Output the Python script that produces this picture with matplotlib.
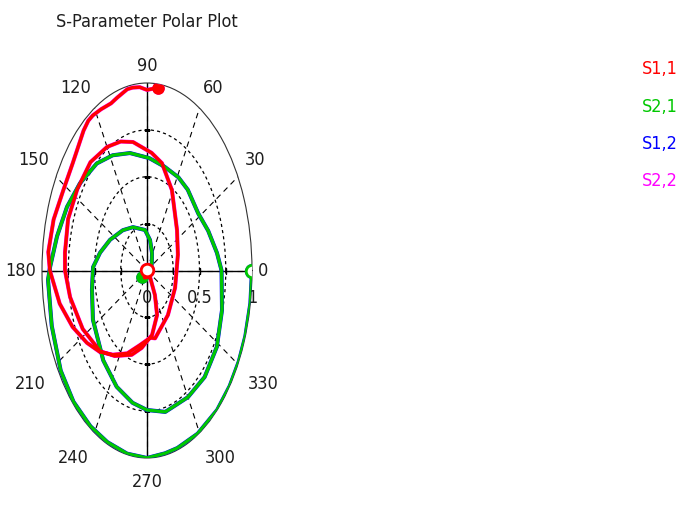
import numpy as np
import matplotlib
matplotlib.use('Agg')
import matplotlib.pyplot as plt
from matplotlib import font_manager

# pick a narrow face if one is installed, the reference text is condensed
narrow = None
for f in font_manager.fontManager.ttflist:
    if 'Narrow' in f.name or f.stretch in ('condensed', 'semi-condensed', 'extra-condensed'):
        narrow = f
        break
if narrow is not None:
    plt.rcParams['font.family'] = [narrow.name, 'DejaVu Sans']
    plt.rcParams['font.stretch'] = narrow.stretch if not isinstance(narrow.stretch, int) else 'condensed'
else:
    plt.rcParams['font.family'] = ['DejaVu Sans']

# S1,1 trace (angle in degrees, magnitude)
s11_ang = [84, 90, 94, 98, 101, 107, 111, 117, 122, 125, 129, 141, 152, 163, 174, 180,
           192, 203, 214, 224, 234, 247, 260, 275, 282, 310, 341, 16, 37, 61, 76, 86,
           101, 110, 120, 133, 147, 160, 173, 180, 191, 207, 224, 236, 252, 263, 278,
           292, 300, 310, 240, 170, 120, 90]
s11_mag = [0.98, 0.963, 0.98, 0.985, 0.985, 0.965, 0.955, 0.965, 0.975, 0.975, 0.96, 0.91,
           0.905, 0.93, 0.945, 0.925, 0.85, 0.77, 0.69, 0.625, 0.555, 0.48, 0.405, 0.36,
           0.37, 0.31, 0.283, 0.306, 0.358, 0.49, 0.59, 0.629, 0.698, 0.732, 0.761, 0.79,
           0.793, 0.8, 0.787, 0.781, 0.746, 0.687, 0.62, 0.55, 0.473, 0.416, 0.347, 0.256,
           0.151, 0.045, 0.045, 0.04, 0.02, 0.005]

# S2,1 trace
s21_ang = [216, 330, 40, 63, 80, 95, 120, 137, 155, 168, 178, 191, 207, 229, 245, 259,
           270, 283, 300, 314, 328.5, 343.5, 0, 8, 20, 32, 48, 59, 73, 88, 104.5, 118,
           130, 144, 156, 168, 179, 183, 198, 213, 225, 237, 247.5, 259, 270, 280, 287,
           299, 312, 322, 331, 339.5, 350, 360]
s21_mag = [0.06, 0.035, 0.06, 0.105, 0.165, 0.217, 0.267, 0.315, 0.388, 0.457, 0.514,
           0.534, 0.578, 0.635, 0.684, 0.719, 0.744, 0.774, 0.78, 0.79, 0.78, 0.745, 0.71,
           0.673, 0.62, 0.575, 0.58, 0.58, 0.578, 0.6, 0.647, 0.696, 0.745, 0.79, 0.834,
           0.876, 0.924, 0.944, 0.954, 0.98, 0.99, 0.99, 0.99, 0.995, 1.0, 0.99, 0.99,
           0.995, 1.0, 1.0, 1.0, 1.0, 1.0, 1.0]

# reverse transmission / output reflection overlap the forward traces
s12_ang, s12_mag = list(s21_ang), list(s21_mag)
s22_ang, s22_mag = list(s11_ang), list(s11_mag)

r_ticks = [0, 0.5, 1]
theta_ticks = list(range(0, 360, 30))
# label distance from centre per angle (the top labels sit a bit closer)
theta_label_r = {0: 1.06, 30: 1.08, 60: 1.07, 90: 1.045, 120: 1.07, 150: 1.08,
                 180: 1.06, 210: 1.11, 240: 1.10, 270: 1.08, 300: 1.10, 330: 1.11}

txt_col = '#1e1e1e'
fs = 13 if narrow is not None else 11

fig = plt.figure(figsize=(6.8, 5.22), dpi=100)
ax = fig.add_axes([42 / 680, 64 / 522, 210 / 680, 375 / 522], projection='polar')
ax.set_aspect('auto')
ax.set_ylim(0, 1)

ax.set_xticks(np.deg2rad(theta_ticks))
ax.set_xticklabels([])
ax.set_yticks([0.25, 0.5, 0.75])
ax.set_yticklabels([])
ax.xaxis.grid(True, color='k', linestyle=(0, (5, 4)), linewidth=0.8)
ax.yaxis.grid(True, color='k', linestyle=(0, (2.5, 2.5)), linewidth=0.9)
ax.tick_params(length=0)
ax.spines['polar'].set_linewidth(0.8)
ax.spines['polar'].set_color('#333333')

# solid main axes
for a in [0, 90]:
    t = np.deg2rad(a)
    ax.plot([t, t + np.pi], [1, 1], color='k', lw=1.0, zorder=2)
ax.plot(np.zeros(3), [0.25, 0.5, 0.75], ls='none', marker='|', ms=5, color='k', mew=1)
ax.plot(np.full(3, np.pi), [0.25, 0.5, 0.75], ls='none', marker='|', ms=5, color='k', mew=1)
ax.plot(np.full(3, np.pi / 2), [0.25, 0.5, 0.75], ls='none', marker='_', ms=5, color='k', mew=1)
ax.plot(np.full(3, 3 * np.pi / 2), [0.25, 0.5, 0.75], ls='none', marker='_', ms=5, color='k', mew=1)


def trace(ang, mag, col, lw, z):
    t = np.unwrap(np.deg2rad(ang))
    ax.plot(t, mag, color=col, lw=lw, zorder=z, solid_capstyle='round', solid_joinstyle='round')
    ax.plot(t[0], mag[0], 'o', color=col, ms=8, zorder=z + 0.5)
    ax.plot(t[-1], mag[-1], 'o', mfc='white', mec=col, mew=2, ms=9, zorder=z + 0.5)


trace(s22_ang, s22_mag, '#ff00ff', 2.9, 3)
trace(s12_ang, s12_mag, '#0000ff', 2.9, 3.2)
trace(s21_ang, s21_mag, '#00c800', 2.4, 4)
trace(s11_ang, s11_mag, '#ff0000', 2.4, 5)

# angle labels
for a in theta_ticks:
    c, s = np.cos(np.deg2rad(a)), np.sin(np.deg2rad(a))
    ha = 'center' if abs(c) < 0.1 else ('left' if c > 0 else 'right')
    va = 'center' if abs(s) < 0.1 else ('bottom' if s > 0 else 'top')
    ax.text(np.deg2rad(a), theta_label_r[a], str(a), ha=ha, va=va, fontsize=fs,
            color=txt_col, clip_on=False)

# radius labels
for r in r_ticks:
    ax.annotate(str(r), xy=(0, r), xytext=(0, -13), textcoords='offset points',
                ha='center', va='top', fontsize=fs, color=txt_col)

fig.text(147 / 680, 1 - 22 / 522, 'S-Parameter Polar Plot', ha='center', va='center',
         fontsize=fs, color=txt_col)

legend_names = ['S1,1', 'S2,1', 'S1,2', 'S2,2']
legend_cols = ['#ff0000', '#00c800', '#0000ff', '#ff00ff']
legend_y = [69, 107, 144, 181]
for name, col, y in zip(legend_names, legend_cols, legend_y):
    fig.text(678 / 680, 1 - y / 522, name, ha='right', va='center', fontsize=fs, color=col)

fig.savefig('out.png', dpi=100)
